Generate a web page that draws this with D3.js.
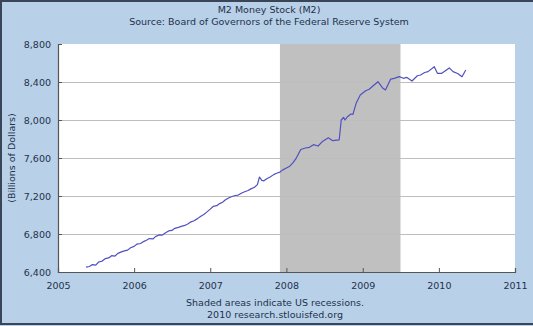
<!DOCTYPE html>
<html>
<head>
<meta charset="utf-8">
<script src="https://cdn.jsdelivr.net/npm/d3@7"></script>
<style>
  html, body { margin: 0; padding: 0; background: #b9d0e9; }
  svg { display: block; }
  text { font-family: "DejaVu Sans", sans-serif; fill: #22324a; }
</style>
</head>
<body>
<svg id="chart" width="533" height="326"></svg>
<script>
// M2 money stock, billions of dollars
const dates = [
  "2005-05-15","2005-06-01","2005-06-15","2005-07-01","2005-07-15","2005-08-01","2005-08-15","2005-09-01",
  "2005-09-15","2005-10-01","2005-10-15","2005-11-01","2005-11-15","2005-12-01","2005-12-15",
  "2006-01-01","2006-01-15","2006-02-01","2006-02-15","2006-03-01","2006-03-15","2006-04-01","2006-04-15",
  "2006-05-01","2006-05-15","2006-06-01","2006-06-15","2006-07-01","2006-07-15","2006-08-01","2006-08-15",
  "2006-09-01","2006-09-15","2006-10-01","2006-10-15","2006-11-01","2006-11-15","2006-12-01","2006-12-15",
  "2007-01-01","2007-01-15","2007-02-01","2007-02-15","2007-03-01","2007-03-15","2007-04-01","2007-04-15",
  "2007-05-01","2007-05-15","2007-06-01","2007-06-15","2007-07-01","2007-07-15","2007-08-01","2007-08-15",
  "2007-08-25","2007-09-05","2007-09-15","2007-10-01","2007-10-15","2007-11-01","2007-11-15","2007-12-01",
  "2007-12-15",
  "2008-01-01","2008-01-15","2008-02-01","2008-02-15","2008-03-10","2008-04-01","2008-04-20","2008-05-10",
  "2008-06-01","2008-06-20","2008-07-20","2008-08-10","2008-09-10","2008-09-20","2008-10-01","2008-10-08",
  "2008-10-20","2008-11-05","2008-11-15","2008-12-01","2008-12-20",
  "2009-01-15","2009-02-01","2009-02-20","2009-03-15","2009-04-05","2009-04-20","2009-05-15","2009-06-01",
  "2009-06-25","2009-07-15","2009-08-01","2009-08-25","2009-09-20","2009-10-05","2009-10-25","2009-11-10",
  "2009-12-10","2009-12-25",
  "2010-01-15","2010-02-20","2010-03-10","2010-04-01","2010-04-22","2010-05-10"
];
const m2 = [
  6452,6458,6478,6472,6505,6515,6540,6548,
  6572,6568,6596,6612,6622,6630,6655,
  6670,6694,6700,6720,6735,6752,6748,6775,
  6790,6788,6812,6832,6838,6860,6870,6880,
  6890,6905,6928,6940,6962,6985,7005,7030,
  7062,7090,7098,7120,7135,7160,7182,7195,
  7205,7210,7232,7245,7258,7275,7292,7320,
  7400,7365,7360,7385,7400,7425,7440,7452,
  7475,
  7495,7510,7548,7590,7690,7705,7712,7740,
  7726,7770,7813,7782,7790,8000,8028,8000,
  8035,8063,8060,8180,8263,
  8308,8323,8360,8403,8340,8316,8431,8438,
  8456,8439,8448,8410,8466,8474,8500,8509,
  8561,8491,
  8491,8548,8509,8490,8456,8526
];
// NBER recession: Dec 2007 - Jun 2009
const recessions = [["2007-12-01","2009-07-01"]];
const yTicks = [6400,6800,7200,7600,8000,8400,8800];
const xTickYears = [2005,2006,2007,2008,2009,2010,2011];
const titles = ["M2 Money Stock (M2)", "Source: Board of Governors of the Federal Reserve System"];
const notes = ["Shaded areas indicate US recessions.", "2010 research.stlouisfed.org"];
const yTitle = "(Billions of Dollars)";

const W = 533, H = 326;
const m = {left: 58, right: 18, top: 44, bottom: 54};
const svg = d3.select("#chart");
const parse = d3.timeParse("%Y-%m-%d");
const data = dates.map((d, i) => ({date: parse(d), value: m2[i]}));

const x = d3.scaleTime()
  .domain([new Date(2005, 0, 1), new Date(2011, 0, 1)])
  .range([m.left, W - m.right]);
const y = d3.scaleLinear().domain([6400, 8800]).range([H - m.bottom, m.top]);

// frame
svg.append("rect").attr("x", 0).attr("y", 0).attr("width", W).attr("height", H).attr("fill", "#b9d0e9");
svg.append("path")
  .attr("d", `M${W},1 H1 V${H - 2} H${W}`)
  .attr("fill", "none").attr("stroke", "#3a4658").attr("stroke-width", 2);

// plot area
svg.append("rect")
  .attr("x", m.left).attr("y", m.top)
  .attr("width", W - m.left - m.right).attr("height", H - m.top - m.bottom)
  .attr("fill", "#ffffff");

// recession shading
svg.selectAll("rect.rec").data(recessions).join("rect")
  .attr("class", "rec")
  .attr("x", d => x(parse(d[0])))
  .attr("width", d => x(parse(d[1])) - x(parse(d[0])))
  .attr("y", m.top).attr("height", H - m.top - m.bottom)
  .attr("fill", "#c0c0c0");

// gridlines
svg.selectAll("line.grid").data(yTicks.slice(1, -1)).join("line")
  .attr("class", "grid")
  .attr("x1", m.left).attr("x2", W - m.right)
  .attr("y1", d => Math.round(y(d)) + 0.5).attr("y2", d => Math.round(y(d)) + 0.5)
  .attr("stroke", "#bdbdbd").attr("stroke-width", 1);

// axes
const yAxis = d3.axisLeft(y).tickValues(yTicks).tickFormat(d3.format(",")).tickSize(-4).tickPadding(7);
const gy = svg.append("g").attr("transform", `translate(${m.left},0)`).call(yAxis);
const xAxis = d3.axisBottom(x).tickValues(xTickYears.map(yr => new Date(yr, 0, 1)))
  .tickFormat(d3.timeFormat("%Y")).tickSize(-4).tickPadding(8);
const gx = svg.append("g").attr("transform", `translate(0,${H - m.bottom})`).call(xAxis);
[gx, gy].forEach(g => {
  g.select(".domain").attr("stroke", "#555555").attr("stroke-width", 1.2);
  g.selectAll(".tick line").attr("stroke", "#555555");
  g.selectAll(".tick text").attr("font-size", 9.5).attr("fill", "#22324a")
    .attr("font-family", "DejaVu Sans, sans-serif");
});
gx.selectAll(".tick text").attr("dy", "0.9em");

// series line
const line = d3.line().x(d => x(d.date)).y(d => y(d.value));
svg.append("path").datum(data)
  .attr("d", line)
  .attr("fill", "none")
  .attr("stroke", "#5050c0")
  .attr("stroke-width", 1.2)
  .attr("stroke-linejoin", "round");

// titles and notes
svg.selectAll("text.title").data(titles).join("text")
  .attr("class", "title")
  .attr("x", 269).attr("y", (d, i) => 13 + i * 12)
  .attr("text-anchor", "middle").attr("font-size", 9.5)
  .text(d => d);
svg.selectAll("text.note").data(notes).join("text")
  .attr("class", "note")
  .attr("x", 275).attr("y", (d, i) => 306 + i * 12)
  .attr("text-anchor", "middle").attr("font-size", 9.5)
  .text(d => d);
svg.append("text")
  .attr("transform", `translate(15,${(m.top + H - m.bottom) / 2}) rotate(-90)`)
  .attr("text-anchor", "middle").attr("font-size", 9.5)
  .text(yTitle);
</script>
</body>
</html>
